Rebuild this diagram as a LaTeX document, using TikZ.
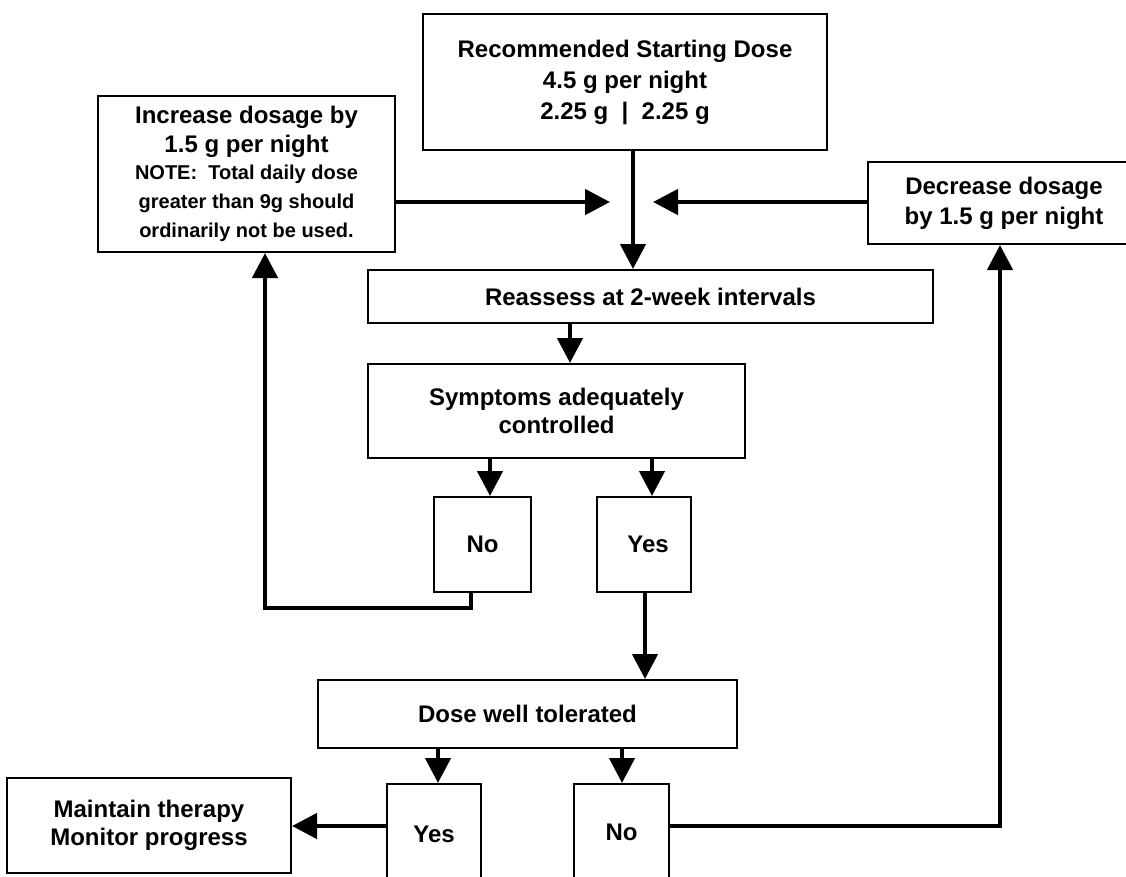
\documentclass[tikz,border=0pt]{standalone}
\usepackage{fontspec}
\setmainfont{Liberation Sans}
\usetikzlibrary{arrows.meta}
\newcommand{\notesize}{\fontsize{20}{23}\selectfont}
\begin{document}
\begin{tikzpicture}[x=1pt,y=-1pt,
  box/.style={draw, line width=2pt, rectangle, align=center, inner sep=0pt, fill=white,
    font=\bfseries\fontsize{24}{29}\selectfont},
  conn/.style={line width=4.5pt},
  arr/.style={conn, -{Triangle[length=25pt,width=25pt]}},
]
\fill[white] (0,0) rectangle (1126,876);
\useasboundingbox (0,0) rectangle (1126,876);

% boxes
\node[box, minimum width=404pt, minimum height=136pt, font=\bfseries\fontsize{24}{31}\selectfont] (start) at (625,82)
  {Recommended Starting Dose\\4.5 g per night\\2.25 g\ \ |\ \ 2.25 g};
\node[box, minimum width=297pt, minimum height=156pt] (inc) at (246.5,174)
  {\raisebox{-3pt}{Increase dosage by}\\\raisebox{-3pt}{1.5 g per night}\\[1pt]
   \notesize NOTE:\ \ Total daily dose\\\notesize greater than 9g should\\\notesize ordinarily not be used.};
\node[box, minimum width=272pt, minimum height=82pt, font=\bfseries\fontsize{24}{30}\selectfont] (dec) at (1004,203)
  {Decrease dosage\\by 1.5 g per night};
\node[box, minimum width=565pt, minimum height=53pt] (reas) at (650.5,296.5)
  {Reassess at 2-week intervals};
\node[box, minimum width=377pt, minimum height=94pt, font=\bfseries\fontsize{24}{28}\selectfont] (sym) at (556.5,411)
  {Symptoms adequately\\controlled};
\node[box, minimum width=97pt, minimum height=95pt] (no1) at (482.5,544.5) {No};
\node[box, minimum width=94pt, minimum height=95pt] (yes1) at (644,544.5) {\hspace*{8pt}\raisebox{-6pt}{Yes}};
\node[box, minimum width=419pt, minimum height=68pt] (dose) at (527.5,714) {Dose well tolerated};
\node[box, minimum width=94pt, minimum height=100pt] (yes2) at (434,834) {Yes};
\node[box, minimum width=95pt, minimum height=100pt] (no2) at (621.5,834) {\raisebox{4pt}{No}};
\node[box, minimum width=284pt, minimum height=95pt, font=\bfseries\fontsize{24}{28}\selectfont] (maint) at (149,825.5)
  {Maintain therapy\\Monitor progress};

% helper coordinates
\coordinate (incEnd) at (610,202);
\coordinate (decEnd) at (653,202);
\coordinate (xA) at (633,0);
\coordinate (xB) at (570,0);
\coordinate (xC) at (490,0);
\coordinate (xD) at (652,0);
\coordinate (xE) at (471,0);
\coordinate (yE) at (0,608);
\coordinate (xF) at (265,0);
\coordinate (xG) at (645,0);
\coordinate (xH) at (438,0);
\coordinate (xI) at (622,0);
\coordinate (yJ) at (0,826);
\coordinate (xK) at (1000,0);

% connectors
\draw[arr] (start.south -| xA) -- (reas.north -| xA);
\draw[arr] (inc.east |- incEnd) -- (incEnd);
\draw[arr] (dec.west |- decEnd) -- (decEnd);
\draw[arr] (reas.south -| xB) -- (sym.north -| xB);
\draw[arr] (sym.south -| xC) -- (no1.north -| xC);
\draw[arr] (sym.south -| xD) -- (yes1.north -| xD);
\draw[arr] (no1.south -| xE) -- (yE -| xE) -- (yE -| xF) -- (inc.south -| xF);
\draw[arr] (yes1.south -| xG) -- (dose.north -| xG);
\draw[arr] (dose.south -| xH) -- (yes2.north -| xH);
\draw[arr] (dose.south -| xI) -- (no2.north -| xI);
\draw[arr] (yes2.west |- yJ) -- (maint.east |- yJ);
\draw[arr] (no2.east |- yJ) -- (yJ -| xK) -- (dec.south -| xK);
\end{tikzpicture}
\end{document}
